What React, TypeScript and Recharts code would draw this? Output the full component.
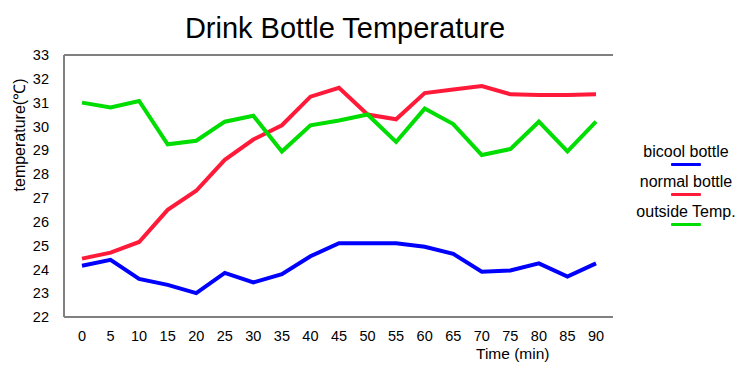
import React from 'react';
import { LineChart, Line, XAxis, YAxis, CartesianGrid, ReferenceLine } from 'recharts';

const minutes = [0, 5, 10, 15, 20, 25, 30, 35, 40, 45, 50, 55, 60, 65, 70, 75, 80, 85, 90];
const bicoolBottle = [24.15, 24.4, 23.6, 23.35, 23.0, 23.85, 23.45, 23.8, 24.55, 25.1, 25.1, 25.1, 24.95, 24.65, 23.9, 23.95, 24.25, 23.7, 24.25];
const normalBottle = [24.45, 24.7, 25.15, 26.5, 27.3, 28.6, 29.45, 30.05, 31.25, 31.62, 30.5, 30.3, 31.4, 31.55, 31.7, 31.35, 31.32, 31.32, 31.35];
const outsideTemp = [31.0, 30.8, 31.07, 29.25, 29.4, 30.2, 30.45, 28.95, 30.05, 30.25, 30.5, 29.35, 30.75, 30.1, 28.8, 29.05, 30.2, 28.95, 30.2];
const yTicks = [22, 23, 24, 25, 26, 27, 28, 29, 30, 31, 32, 33];

const series = [
  { key: 'bicool', name: 'bicool bottle', color: '#0000ff' },
  { key: 'normal', name: 'normal bottle', color: '#ff1a3a' },
  { key: 'outside', name: 'outside Temp.', color: '#00dd00' },
];

const data = minutes.map((m, i) => ({
  time: m,
  bicool: bicoolBottle[i],
  normal: normalBottle[i],
  outside: outsideTemp[i],
}));

const font = '"Liberation Sans", Arial, sans-serif';
const borderGray = '#808080';

export default function App() {
  return (
    <div style={{ position: 'fixed', left: 0, top: 0, width: 750, height: 371, background: '#fff', fontFamily: font }}>
      <div style={{ position: 'absolute', left: 0, width: 690, top: 12, textAlign: 'center', fontSize: 29, color: '#000' }}>
        Drink Bottle Temperature
      </div>
      <div
        style={{
          position: 'absolute',
          left: 19,
          top: 135,
          transform: 'translate(-50%, -50%) rotate(-90deg)',
          fontSize: 16,
          whiteSpace: 'nowrap',
        }}
      >
        temperature(℃)
      </div>
      <div style={{ position: 'absolute', left: 476, top: 345, fontSize: 15.5 }}>Time (min)</div>
      <div style={{ position: 'absolute', left: 626, top: 143, width: 120 }}>
        {series.map((s) => (
          <div key={s.key} style={{ height: 30, textAlign: 'center', fontSize: 16 }}>
            <div style={{ lineHeight: '18px' }}>{s.name}</div>
            <div style={{ width: 30, height: 3, background: s.color, margin: '2px auto 0', borderRadius: 1 }} />
          </div>
        ))}
      </div>
      <LineChart
        width={750}
        height={371}
        data={data}
        margin={{ top: 55, right: 137, bottom: 0, left: 0 }}
        style={{ position: 'absolute', left: 0, top: 0 }}
      >
        <CartesianGrid horizontal vertical={false} stroke="#444" strokeWidth={1} />
        <XAxis
          dataKey="time"
          type="category"
          height={54}
          padding={{ left: 18, right: 17 }}
          axisLine={{ stroke: borderGray, strokeWidth: 2 }}
          tickLine={false}
          tickMargin={8}
          tick={{ fill: '#000', fontSize: 14.5, fontFamily: font }}
          interval={0}
        />
        <YAxis
          yAxisId="left"
          domain={[22, 33]}
          ticks={yTicks}
          width={64}
          axisLine={{ stroke: borderGray, strokeWidth: 2 }}
          tickLine={false}
          tickMargin={9}
          tick={{ fill: '#000', fontSize: 14.5, fontFamily: font }}
          interval={0}
        />
        <YAxis
          yAxisId="right"
          orientation="right"
          domain={[22, 33]}
          width={0}
          tick={false}
          tickLine={false}
          axisLine={{ stroke: borderGray, strokeWidth: 2 }}
        />
        <ReferenceLine yAxisId="left" y={33} stroke={borderGray} strokeWidth={2} />
        {series.map((s) => (
          <Line
            key={s.key}
            yAxisId="left"
            type="linear"
            dataKey={s.key}
            name={s.name}
            stroke={s.color}
            strokeWidth={4}
            dot={false}
            isAnimationActive={false}
          />
        ))}
      </LineChart>
    </div>
  );
}
